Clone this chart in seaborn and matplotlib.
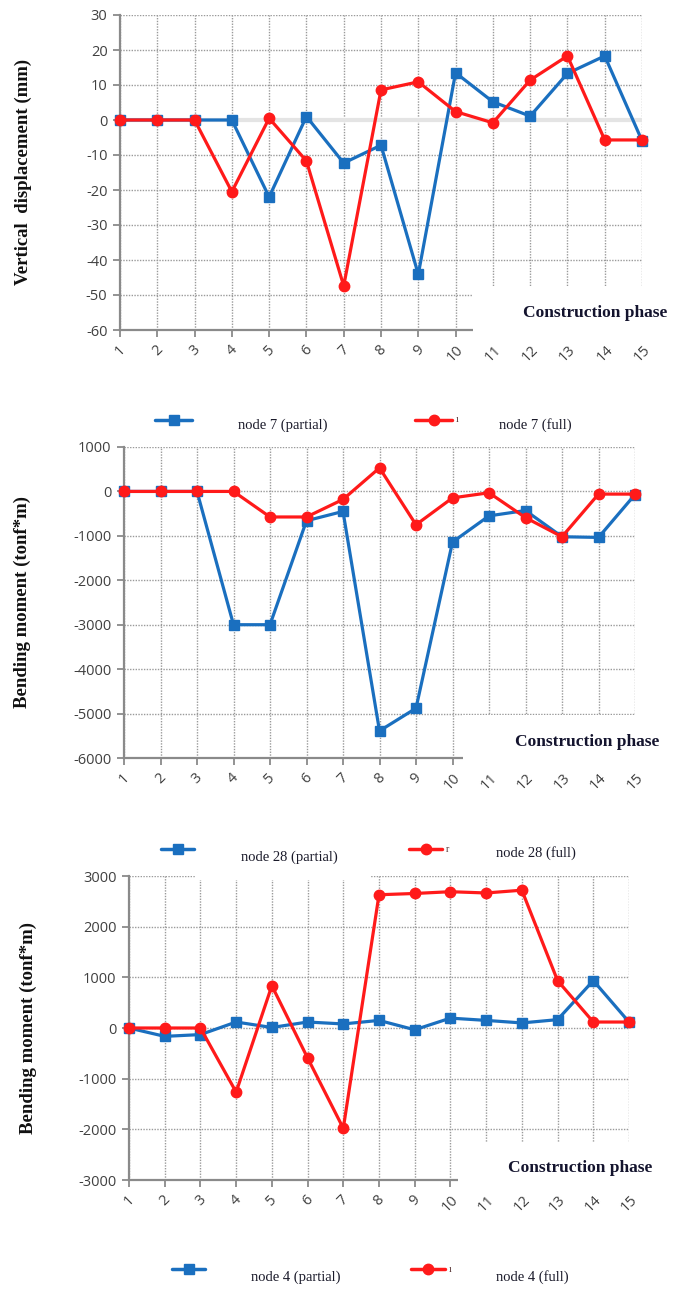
import matplotlib
matplotlib.use("Agg")
import matplotlib.pyplot as plt
import seaborn as sns
import pandas as pd
from matplotlib.lines import Line2D
from matplotlib.patches import Rectangle

# ---------------- data ----------------
phases = list(range(1, 16))
phase_labels = [str(p) for p in phases]

disp_partial = [0, 0, 0, 0, -22, 1, -12.3, -7.2, -44.1, 13.5, 5.2, 1.1, 13.3, 18.3, -5.9]
disp_full = [0, 0, 0, -20.5, 0.5, -11.7, -47.4, 8.6, 10.9, 2.4, -0.8, 11.4, 18.3, -5.7, -5.7]

bend7_partial = [0, 0, 0, -3000, -3000, -660, -450, -5390, -4880, -1140, -550, -430, -1020, -1035, -70]
bend7_full = [0, 0, 0, 0, -575, -575, -180, 530, -750, -145, -30, -590, -1020, -60, -60]

bend4_partial = [0, -165, -130, 118, 10, 118, 80, 150, -35, 195, 150, 100, 165, 935, 118]
bend4_full = [0, 0, 0, -1265, 835, -590, -1980, 2630, 2655, 2690, 2665, 2720, 935, 118, 118]

yticks1 = [30, 20, 10, 0, -10, -20, -30, -40, -50, -60]
yticks2 = [1000, 0, -1000, -2000, -3000, -4000, -5000, -6000]
yticks3 = [3000, 2000, 1000, 0, -1000, -2000, -3000]

ylabel1 = "Vertical  displacement (mm)"
ylabel2 = "Bending moment (tonf*m)"
xlabel = "Construction phase"
legend_texts = [("node 7 (partial)", "node 7 (full)"),
                ("node 28 (partial)", "node 28 (full)"),
                ("node 4 (partial)", "node 4 (full)")]

BLUE = "#1a6fbf"
RED = "#ff1a1a"
AXC = "#8a8a8a"
GRIDC = "#9a9a9a"

# ---------------- style ----------------
sns.set_style("white")
plt.rcParams["font.family"] = ["Open Sans", "DejaVu Sans"]

W, H = 675, 1290
fig = plt.figure(figsize=(6.75, 12.9), dpi=100)


def fx(px):
    return px / W


def fy(py):
    return 1 - py / H


def make_ax(l, r, t, b):
    return fig.add_axes([fx(l), fy(b), fx(r) - fx(l), fy(t) - fy(b)])


def panel(ax, partial, full, yticks):
    ax.set_xlim(1, 15)
    ax.set_ylim(min(yticks), max(yticks))
    ax.grid(True, color=GRIDC, linestyle=(0, (1, 1)), linewidth=1.0)
    ax.set_axisbelow(True)
    for s in ["top", "right"]:
        ax.spines[s].set_visible(False)
    for s in ["left", "bottom"]:
        ax.spines[s].set_color(AXC)
        ax.spines[s].set_linewidth(1.6)
    sns.lineplot(x=phases, y=partial, color=BLUE, marker="s", markersize=7,
                 markeredgecolor=BLUE, markeredgewidth=1, linewidth=2.3, ax=ax,
                 clip_on=False, zorder=5)
    sns.lineplot(x=phases, y=full, color=RED, marker="o", markersize=7.5,
                 markeredgecolor=RED, markeredgewidth=1, linewidth=2.3, ax=ax,
                 clip_on=False, zorder=6)
    ax.set_xticks(phases)
    ax.set_xticklabels(phase_labels, rotation=45, ha="center")
    ax.set_yticks(yticks)
    ax.set_yticklabels([str(v) for v in yticks])
    ax.tick_params(axis="both", bottom=True, left=True, length=5, width=1.3,
                   color=AXC, direction="out", labelcolor="#404040", labelsize=10.5)
    ax.tick_params(axis="x", pad=4, labelsize=10.5)
    ax.tick_params(axis="y", pad=4)
    ax.set_xlabel("")
    ax.set_ylabel("")


ax1 = make_ax(120, 642, 15, 330)
panel(ax1, disp_partial, disp_full, yticks1)
ax1.axhline(0, color="#e4e4e4", linewidth=3, zorder=1)

ax2 = make_ax(124, 635, 447, 758)
panel(ax2, bend7_partial, bend7_full, yticks2)

ax3 = make_ax(129, 629, 876, 1180)
panel(ax3, bend4_partial, bend4_full, yticks3)


def white_box(x0, x1, y0, y1):
    fig.add_artist(Rectangle((fx(x0), fy(y1)), fx(x1) - fx(x0), fy(y0) - fy(y1),
                             transform=fig.transFigure, facecolor="white",
                             edgecolor="none", zorder=2))


# white boxes covering lower-right corner of each plot
white_box(473, 675, 286, 341)
white_box(463, 675, 715, 768)
white_box(458, 675, 1142, 1190)
# gap in the top gridline of panel 3
white_box(196, 371, 872, 880)

# x-axis titles
for (xc, yc) in [(595, 313), (587, 742), (580, 1168)]:
    fig.text(fx(xc), fy(yc), xlabel, ha="center", va="center",
             family=["Liberation Serif", "DejaVu Serif"], weight="bold",
             size=12.5, color="#14142e", zorder=4)

# y-axis titles
fig.text(fx(23), fy(172), ylabel1, rotation=90, ha="center", va="center",
         family=["Liberation Serif", "DejaVu Serif"], weight="bold", size=13.5, color="#111111")
fig.text(fx(22), fy(602), ylabel2, rotation=90, ha="center", va="center",
         family=["Liberation Serif", "DejaVu Serif"], weight="bold", size=13.5, color="#111111")
fig.text(fx(28), fy(1028), ylabel2, rotation=90, ha="center", va="center",
         family=["Liberation Serif", "DejaVu Serif"], weight="bold", size=13.5, color="#111111")


def legend_row(bx0, bx1, by, btx, bty, rx0, rx1, ry, rtx, rty, texts, mark):
    fig.add_artist(Line2D([fx(bx0), fx(bx1)], [fy(by), fy(by)], transform=fig.transFigure,
                          color=BLUE, linewidth=2.5, marker=None))
    fig.add_artist(Line2D([fx((bx0 + bx1) / 2)], [fy(by)], transform=fig.transFigure,
                          color=BLUE, marker="s", markersize=7, linestyle="none"))
    fig.add_artist(Line2D([fx(rx0), fx(rx1)], [fy(ry), fy(ry)], transform=fig.transFigure,
                          color=RED, linewidth=2.5))
    fig.add_artist(Line2D([fx((rx0 + rx1) / 2)], [fy(ry)], transform=fig.transFigure,
                          color=RED, marker="o", markersize=7.5, linestyle="none"))
    fig.text(fx(rx1 + 5), fy(ry), mark, ha="center", va="center", size=7,
             color="#553333", family=["Liberation Serif", "DejaVu Serif"])
    fig.text(fx(btx), fy(bty), texts[0], ha="left", va="center",
             family=["Liberation Serif", "DejaVu Serif"], size=10.5, color="#1a1a2a")
    fig.text(fx(rtx), fy(rty), texts[1], ha="left", va="center",
             family=["Liberation Serif", "DejaVu Serif"], size=10.5, color="#1a1a2a")


legend_row(155, 192, 420, 238, 425, 415, 452, 420, 499, 425, legend_texts[0], "ı")
legend_row(161, 194, 849, 241, 857, 409, 442, 849, 496, 853, legend_texts[1], "r")
legend_row(172, 205, 1269, 251, 1277, 411, 445, 1269, 496, 1277, legend_texts[2], "ı")

fig.savefig("out.png", dpi=100, facecolor="white")
